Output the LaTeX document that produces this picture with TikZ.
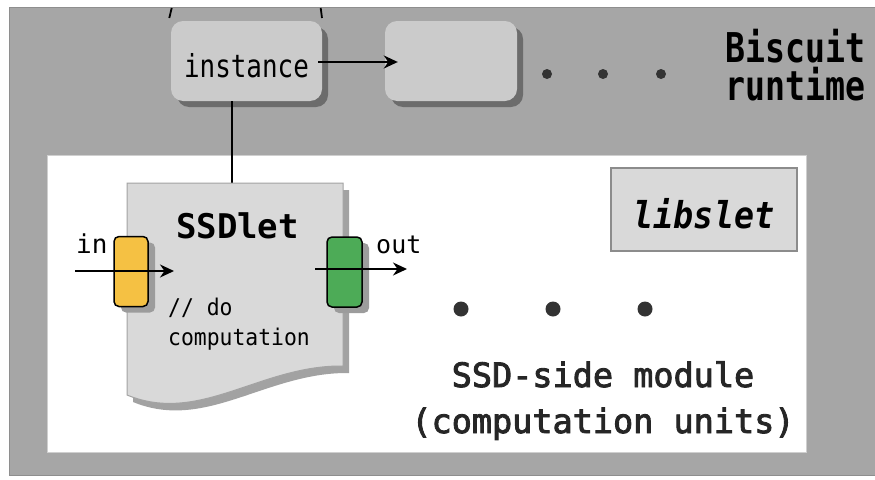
\documentclass[tikz,border=0pt]{standalone}
\usepackage{fontspec}
\usepackage{graphicx}
\setmonofont{DejaVu Sans Mono}
\newfontfamily\monomed[FakeBold=2.6]{DejaVu Sans Mono}
\usetikzlibrary{arrows.meta,shadows,calc}
\definecolor{bggray}{HTML}{A6A6A6}
\definecolor{bgborder}{HTML}{8E8E8E}
\definecolor{boxgray}{HTML}{CBCBCB}
\definecolor{boxshadow}{HTML}{6C6C6C}
\definecolor{docfill}{HTML}{D9D9D9}
\definecolor{docborder}{HTML}{A3A3A3}
\definecolor{docshadow}{HTML}{A2A2A2}
\definecolor{portshadow}{HTML}{9C9C9C}
\definecolor{inyellow}{HTML}{F5C143}
\definecolor{outgreen}{HTML}{4DAB57}
\definecolor{dotcol}{HTML}{333333}
\definecolor{libborder}{HTML}{8C8C8C}
\definecolor{panelborder}{HTML}{CFCFCF}
\begin{document}
\begin{tikzpicture}[x=1pt,y=-1pt,
  arr/.style={line width=1.8pt,-{Stealth[length=14pt,width=13pt,inset=4.5pt]}},
  conn/.style={line width=1.8pt},
  rtbox/.style={fill=boxgray,rounded corners=12pt,minimum width=151pt,minimum height=80pt,inner sep=0pt,
     general shadow={fill=boxshadow,shadow xshift=6pt,shadow yshift=-6pt}},
  port/.style={draw=black,line width=1.5pt,rounded corners=5pt,minimum width=34pt,minimum height=70pt,inner sep=0pt,
     general shadow={fill=portshadow,shadow xshift=7pt,shadow yshift=-6pt}},
  txt/.style={inner sep=0pt,font=\ttfamily},
  dotsmall/.style={fill=dotcol},
]
\useasboundingbox (0,0) rectangle (875,479);
% background regions
\fill[white] (0,0) rectangle (875,479);
\filldraw[fill=bggray,draw=bgborder,line width=1pt] (9,7) rectangle (885,475);
\filldraw[fill=white,draw=panelborder,line width=1pt] (47,155) rectangle (806,452);

% ticks at top (connectors leaving the frame)
\coordinate (t1a) at (171.7,8); \coordinate (t1b) at (169.3,18);
\coordinate (t2a) at (320.7,8); \coordinate (t2b) at (322,18);
\draw[conn] (t1a) -- (t1b);
\draw[conn] (t2a) -- (t2b);

% runtime boxes
\node[rtbox,text height=32pt,text depth=0pt] (instance) at (246.5,61)
  {\fontsize{31.6}{36}\selectfont\ttfamily\scalebox{0.82}[1]{instance}};
\node[rtbox,minimum width=132pt] (box2) at (451,61) {};
\draw[arr] ([xshift=-4pt,yshift=-1pt]instance.east) -- ([xshift=13pt,yshift=-1pt]box2.west);

% dots top
\fill[dotsmall] (547,74) circle (5);
\fill[dotsmall] (603,74) circle (5);
\fill[dotsmall] (661,74) circle (5);

% Biscuit runtime
\node[txt,anchor=base west] (biscuit) at (725,62)
  {\fontsize{41}{46}\selectfont\bfseries\scalebox{0.81}[1]{Biscuit}};
\node[txt,anchor=base west] (runtime) at (725,100)
  {\fontsize{41}{46}\selectfont\bfseries\scalebox{0.81}[1]{runtime}};

% SSDlet document
\coordinate (ssdtop) at (232,183);
\draw[conn] (ssdtop |- instance.south) -- (ssdtop);
\fill[docshadow,shift={(6,7)}] (127,183) -- (343,183) -- (343,366)
   .. controls (260,365) and (200,425) .. (127,395) -- cycle;
\filldraw[fill=docfill,draw=docborder,line width=1pt] (127,183) -- (343,183) -- (343,366)
   .. controls (260,365) and (200,425) .. (127,395) -- cycle;

\node[txt,anchor=base] (ssdlet) at (237.5,238)
  {\fontsize{34}{40}\selectfont\bfseries SSDlet};
\node[txt,anchor=base west] (comment1) at (168,315)
  {\fontsize{23}{28}\selectfont\scalebox{0.93}[1]{// do}};
\node[txt,anchor=base west] (comment2) at (168,345)
  {\fontsize{23}{28}\selectfont\scalebox{0.93}[1]{computation}};

% ports
\node[port,fill=inyellow] (inport) at (131,271.5) {};
\node[port,fill=outgreen,minimum width=35pt] (outport) at (344.5,272) {};
\coordinate (inA) at (75,271); \coordinate (inB) at (174,271);
\coordinate (outA) at (315,269); \coordinate (outB) at (407,269);
\draw[arr] (inA) -- (inB);
\draw[arr] (outA) -- (outB);
\node[txt,anchor=base west] (inlabel) at (76,253) {\fontsize{26}{30}\selectfont in};
\node[txt,anchor=base west] (outlabel) at (376,253) {\fontsize{25}{30}\selectfont out};

% libslet
\node[fill=docfill,draw=libborder,line width=1.5pt,minimum width=186pt,minimum height=83pt,inner sep=0pt,
      text height=37pt,text depth=0pt] (libslet) at (704,209.5)
  {\fontsize{37}{42}\selectfont\ttfamily\bfseries\itshape\scalebox{0.9}[1]{libslet}};

% dots lower
\fill[dotsmall] (461,309) circle (7.5);
\fill[dotsmall] (553,309) circle (7.5);
\fill[dotsmall] (645,309) circle (7.5);

\node[txt,anchor=base] (mod1) at (603,387)
  {\fontsize{33.5}{40}\selectfont\monomed\color{black!85} SSD-side module};
\node[txt,anchor=base] (mod2) at (603,433)
  {\fontsize{33.5}{40}\selectfont\monomed\color{black!85} (computation units)};
\end{tikzpicture}
\end{document}
